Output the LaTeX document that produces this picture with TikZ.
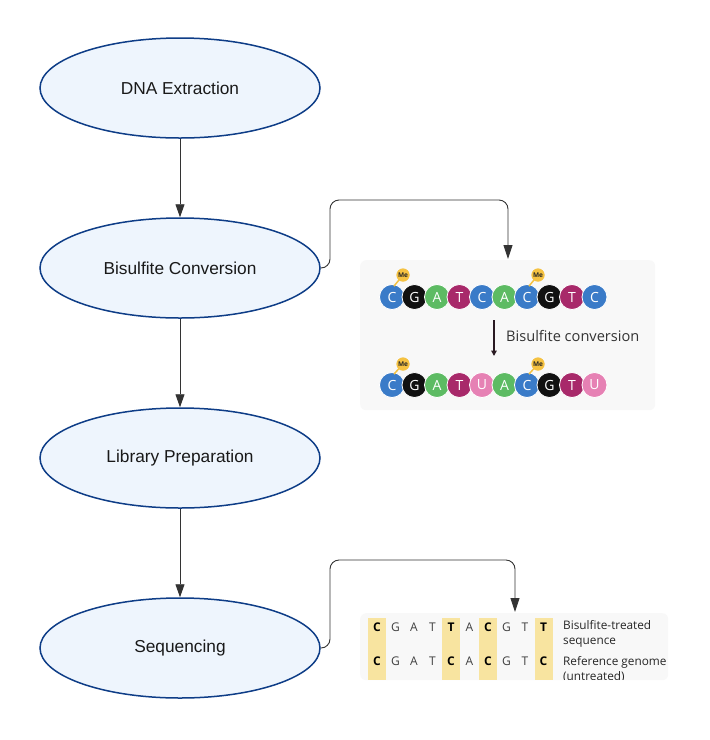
\documentclass[tikz,border=0pt]{standalone}
\usepackage{fontspec}
\setmainfont{Liberation Sans}
\newfontfamily\osans{Open Sans}
\usetikzlibrary{shapes.geometric,arrows.meta}
\definecolor{ellfill}{HTML}{EEF5FD}
\definecolor{elldraw}{HTML}{0E3D87}
\definecolor{connc}{HTML}{333333}
\definecolor{panelbg}{HTML}{F8F8F8}
\definecolor{cC}{HTML}{3A7BC8}
\definecolor{cG}{HTML}{111111}
\definecolor{cA}{HTML}{5DBB63}
\definecolor{cT}{HTML}{A8296A}
\definecolor{cU}{HTML}{E681B4}
\definecolor{meY}{HTML}{F5C242}
\definecolor{hiY}{HTML}{F8E4A0}
\definecolor{darkarr}{HTML}{2A1A22}
\tikzset{
  stage/.style={ellipse, draw=elldraw, fill=ellfill, line width=1.5pt, minimum width=280pt, minimum height=100pt, inner sep=0pt, font=\fontsize{17.3}{20}\selectfont, text=black!90},
  flow/.style={draw=connc, line width=0.9pt, -{Triangle[width=9pt,length=13pt]}},
  conn/.style={draw=connc, line width=0.9pt, rounded corners=9pt, -{Triangle[width=9pt,length=14pt]}},
  panel/.style={fill=panelbg, rounded corners=6pt, inner sep=0pt, anchor=north west},
  base/.style={circle, minimum size=25pt, inner sep=0pt, draw=white, line width=0.8pt, text=white, font=\osans\fontsize{14}{14}\selectfont},
  me/.style={circle, fill=meY, minimum size=13pt, inner sep=0pt, font=\osans\bfseries\fontsize{6.5}{6.5}\selectfont, text=black!85},
  metail/.style={draw=meY, line width=1.5pt},
  seqlet/.style={font=\osans\fontsize{12}{12}\selectfont, text=black!75},
  seqhi/.style={font=\osans\bfseries\fontsize{12}{12}\selectfont, text=black},
  lab/.style={font=\osans\fontsize{11.8}{15.5}\selectfont, text=black!85, align=left, anchor=west, inner sep=0pt}
}
\begin{document}
\begin{tikzpicture}[x=1pt,y=-1pt]
\useasboundingbox (0,0) rectangle (710,740);
\fill[white] (0,0) rectangle (710,740);
% stages
\node[stage] (dna) at (180,88) {DNA Extraction};
\node[stage] (bis) at (180,268) {Bisulfite Conversion};
\node[stage] (lib) at (180,458) {Library Preparation};
\node[stage] (seq) at (180,648) {Sequencing};
\draw[flow] (dna) -- (bis);
\draw[flow] (bis) -- (lib);
\draw[flow] (lib) -- (seq);
% panels
\node[panel, minimum width=295pt, minimum height=150pt] (p1) at (360,260) {};
\node[panel, minimum width=308pt, minimum height=67pt] (p2) at (360,613) {};
% connectors
\coordinate (p1in) at (508,259);
\coordinate (p2in) at (515,612);
\draw[conn] (bis.east) -- (330,268) -- (330,200) -- (508,200) -- (p1in);
\draw[conn] (seq.east) -- (330,648) -- (330,560) -- (515,560) -- (p2in);
% panel 1 sequences
\foreach [count=\i from 0] \l/\c in {C/cC,G/cG,A/cA,T/cT,C/cC,A/cA,C/cC,G/cG,T/cT,C/cC}
  \node[base, fill=\c] (a\i) at (392+22.5*\i,297) {\l};
\foreach [count=\i from 0] \l/\c in {C/cC,G/cG,A/cA,T/cT,U/cU,A/cA,C/cC,G/cG,T/cT,U/cU}
  \node[base, fill=\c] (b\i) at (392+22.5*\i,385) {\l};
\foreach \k/\r/\x/\y in {a0/ma0/403/275, a6/ma6/538/275, b0/mb0/403/364, b6/mb6/538/364} {
  \node[me] (\r) at (\x,\y) {Me};
  \draw[metail] (\r.center) -- ([shift={(2pt,-2pt)}]\k.north);
  \node[me] at (\r) {Me};
}
\coordinate (ctop) at (494,320);
\coordinate (cbot) at (494,356);
\draw[darkarr, line width=1.4pt, -{Triangle[width=5.5pt,length=5.5pt]}] (ctop) -- (cbot);
\node[font=\osans\fontsize{14.6}{14.6}\selectfont, text=black!80, anchor=west, inner sep=0pt] (bclab) at (506,336) {Bisulfite conversion};
% panel 2
\foreach \i in {0,4,6,9}
  \fill[hiY] (377+18.5*\i-9,618) rectangle (377+18.5*\i+9,680);
\foreach [count=\i from 0] \l/\s in {C/seqhi,G/seqlet,A/seqlet,T/seqlet,T/seqhi,A/seqlet,C/seqhi,G/seqlet,T/seqlet,T/seqhi}
  \node[\s] (s\i) at (377+18.5*\i,627) {\l};
\foreach [count=\i from 0] \l/\s in {C/seqhi,G/seqlet,A/seqlet,T/seqlet,C/seqhi,A/seqlet,C/seqhi,G/seqlet,T/seqlet,C/seqhi}
  \node[\s] (r\i) at (377+18.5*\i,661) {\l};
\node[lab] (l1) at (563,634) {Bisulfite-treated\\sequence};
\begin{scope}
\clip (360,613) rectangle (668,679.5);
\node[lab] (l2) at (563,669.5) {Reference genome\\(untreated)};
\end{scope}
\end{tikzpicture}
\end{document}
